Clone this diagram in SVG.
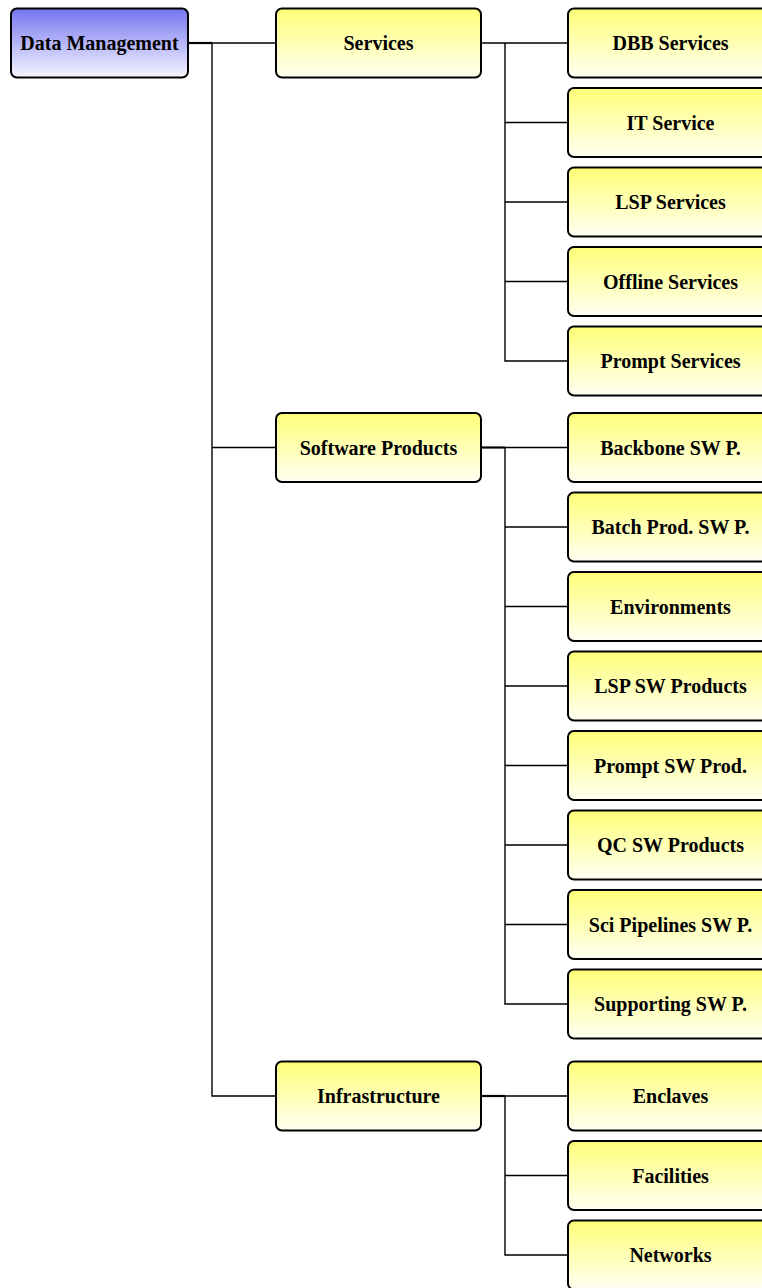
<svg xmlns="http://www.w3.org/2000/svg" width="762" height="1288" viewBox="0 0 762 1288">
<defs>
<linearGradient id="gBlue" x1="0" y1="0" x2="0" y2="1">
<stop offset="0" stop-color="#7575f0"/>
<stop offset="1" stop-color="#f6f6ff"/>
</linearGradient>
<linearGradient id="gYellow" x1="0" y1="0" x2="0" y2="1">
<stop offset="0" stop-color="#ffff78"/>
<stop offset="1" stop-color="#fffff2"/>
</linearGradient>
</defs>
<style>
.box{stroke:#000;stroke-width:2;}
.root{fill:url(#gBlue);}
.item{fill:url(#gYellow);}
.lbl{font-family:"Liberation Serif","Times New Roman",serif;font-weight:bold;font-size:20px;fill:#000;text-anchor:middle;}
.wire{stroke:#000;stroke-width:1.4;fill:none;}
.stub{stroke:#000;stroke-width:2.2;fill:none;}
</style>
<rect width="762" height="1288" fill="#fff"/>
<g id="connectors">
<line class="stub" x1="189" y1="43" x2="212" y2="43"/>
<line class="wire" x1="212" y1="43" x2="276" y2="43"/>
<path class="wire" d="M212 43 V1096 H276"/>
<path class="wire" d="M212 447.5 H276"/>
<line class="wire" x1="481" y1="43" x2="568" y2="43"/>
<path class="wire" d="M505 43 V361 H568 M505 122.5 H568 M505 202 H568 M505 281.5 H568"/>
<line class="stub" x1="481" y1="447.5" x2="505" y2="447.5"/>
<path class="wire" d="M505 447.5 H568 M505 447.5 V1004 H568 M505 527 H568 M505 606.5 H568 M505 686 H568 M505 765.5 H568 M505 845 H568 M505 924.5 H568"/>
<line class="stub" x1="481" y1="1096" x2="505" y2="1096"/>
<path class="wire" d="M505 1096 H568 M505 1096 V1255 H568 M505 1175.5 H568"/>
</g>
<g id="n-data-management"><rect class="box root" x="11" y="8.5" width="177" height="69" rx="6"/><text class="lbl" x="99.5" y="50">Data Management</text></g>
<g id="n-services"><rect class="box item" x="276" y="8.5" width="205" height="69" rx="6"/><text class="lbl" x="378.5" y="50">Services</text></g>
<g id="n-software-products"><rect class="box item" x="276" y="413" width="205" height="69" rx="6"/><text class="lbl" x="378.5" y="454.5">Software Products</text></g>
<g id="n-infrastructure"><rect class="box item" x="276" y="1061.5" width="205" height="69" rx="6"/><text class="lbl" x="378.5" y="1103">Infrastructure</text></g>
<g id="n-dbb-services"><rect class="box item" x="568" y="8.5" width="205" height="69" rx="6"/><text class="lbl" x="670.5" y="50">DBB Services</text></g>
<g id="n-it-service"><rect class="box item" x="568" y="88" width="205" height="69" rx="6"/><text class="lbl" x="670.5" y="129.5">IT Service</text></g>
<g id="n-lsp-services"><rect class="box item" x="568" y="167.5" width="205" height="69" rx="6"/><text class="lbl" x="670.5" y="209">LSP Services</text></g>
<g id="n-offline-services"><rect class="box item" x="568" y="247" width="205" height="69" rx="6"/><text class="lbl" x="670.5" y="288.5">Offline Services</text></g>
<g id="n-prompt-services"><rect class="box item" x="568" y="326.5" width="205" height="69" rx="6"/><text class="lbl" x="670.5" y="368">Prompt Services</text></g>
<g id="n-backbone"><rect class="box item" x="568" y="413" width="205" height="69" rx="6"/><text class="lbl" x="670.5" y="454.5">Backbone SW P.</text></g>
<g id="n-batch"><rect class="box item" x="568" y="492.5" width="205" height="69" rx="6"/><text class="lbl" x="670.5" y="534">Batch Prod. SW P.</text></g>
<g id="n-environments"><rect class="box item" x="568" y="572" width="205" height="69" rx="6"/><text class="lbl" x="670.5" y="613.5">Environments</text></g>
<g id="n-lsp-sw"><rect class="box item" x="568" y="651.5" width="205" height="69" rx="6"/><text class="lbl" x="670.5" y="693">LSP SW Products</text></g>
<g id="n-prompt-sw"><rect class="box item" x="568" y="731" width="205" height="69" rx="6"/><text class="lbl" x="670.5" y="772.5">Prompt SW Prod.</text></g>
<g id="n-qc-sw"><rect class="box item" x="568" y="810.5" width="205" height="69" rx="6"/><text class="lbl" x="670.5" y="852">QC SW Products</text></g>
<g id="n-sci-pipelines"><rect class="box item" x="568" y="890" width="205" height="69" rx="6"/><text class="lbl" x="670.5" y="931.5">Sci Pipelines SW P.</text></g>
<g id="n-supporting"><rect class="box item" x="568" y="969.5" width="205" height="69" rx="6"/><text class="lbl" x="670.5" y="1011">Supporting SW P.</text></g>
<g id="n-enclaves"><rect class="box item" x="568" y="1061.5" width="205" height="69" rx="6"/><text class="lbl" x="670.5" y="1103">Enclaves</text></g>
<g id="n-facilities"><rect class="box item" x="568" y="1141" width="205" height="69" rx="6"/><text class="lbl" x="670.5" y="1182.5">Facilities</text></g>
<g id="n-networks"><rect class="box item" x="568" y="1220.5" width="205" height="69" rx="6"/><text class="lbl" x="670.5" y="1262">Networks</text></g>
</svg>
